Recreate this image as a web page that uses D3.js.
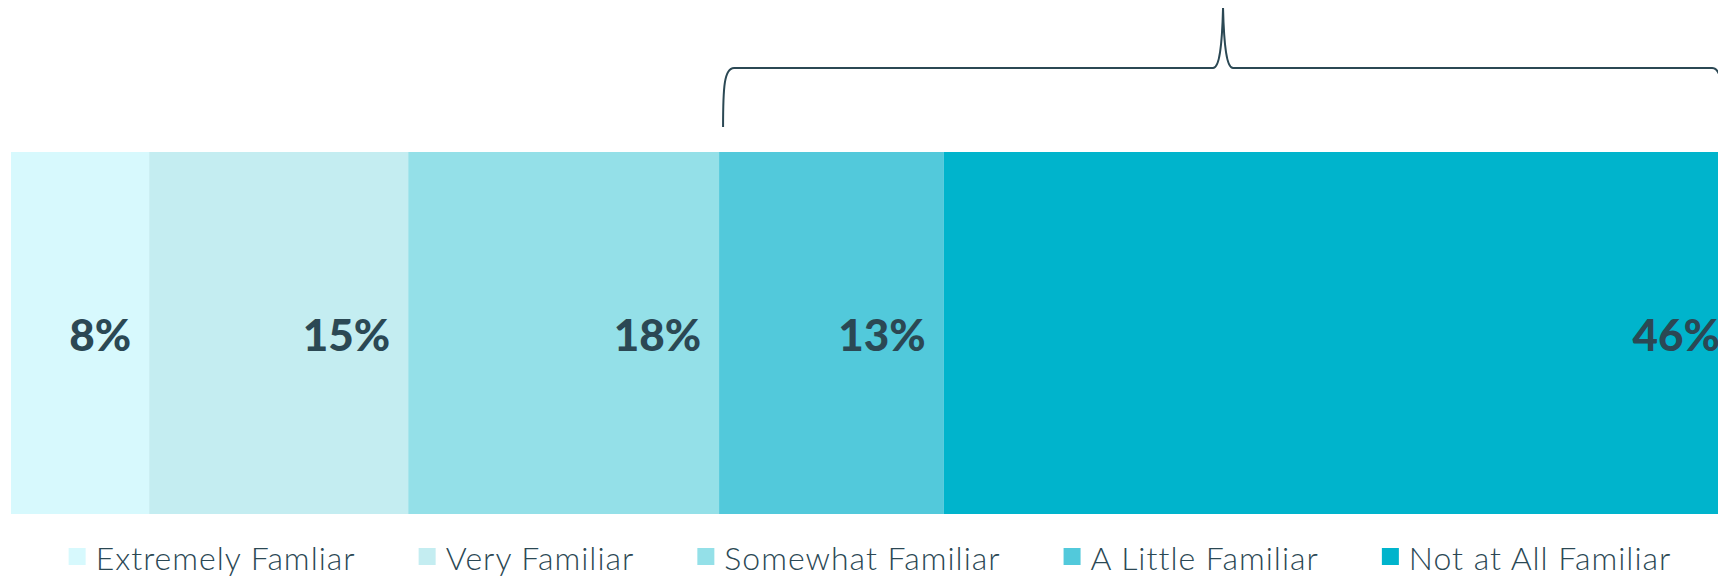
<!DOCTYPE html>
<html>
<head>
<meta charset="utf-8">
<script src="https://cdn.jsdelivr.net/npm/d3@7"></script>
<style>
  html, body { margin: 0; padding: 0; background: #ffffff; }
  svg { display: block; }
</style>
</head>
<body>
<svg id="chart" width="1718" height="576"></svg>
<script>
// ---- data ----
const categories = ["Extremely Famliar", "Very Familiar", "Somewhat Familiar", "A Little Familiar", "Not at All Familiar"];
const values = [8, 15, 18, 13, 46];
const valueLabels = ["8%", "15%", "18%", "13%", "46%"];
const colors = ["#D7F9FD", "#C4EDF1", "#94E0E8", "#52C9DB", "#00B4CC"];
const bracketRange = [41, 100]; // share of the bar spanned by the brace (A Little + Not at All)

// ---- layout ----
const W = 1718, H = 576;
const svg = d3.select("#chart");
const x = d3.scaleLinear().domain([0, 100]).range([11, 1738]);
const barTop = 152, barBottom = 514;
const y = d3.scaleBand().domain(["all"]).range([barTop, barBottom]).padding(0);

const textColor = "#2B4854";

// stacked segments
let acc = 0;
const segs = values.map((v, i) => {
  const s = { key: categories[i], start: acc, end: acc + v, label: valueLabels[i], color: colors[i] };
  acc += v;
  return s;
});

svg.append("g").selectAll("rect").data(segs).join("rect")
  .attr("x", d => x(d.start))
  .attr("width", d => x(d.end) - x(d.start))
  .attr("y", y("all"))
  .attr("height", y.bandwidth())
  .attr("fill", d => d.color);

svg.append("g").selectAll("text").data(segs).join("text")
  .attr("x", d => x(d.end) - 18)
  .attr("y", y("all") + y.bandwidth() / 2 + 18)
  .attr("text-anchor", "end")
  .attr("font-family", "Lato, 'Open Sans', sans-serif")
  .attr("font-weight", 900)
  .attr("font-size", 44)
  .attr("fill", textColor)
  .text(d => d.label);

// curly brace
const bx0 = x(bracketRange[0]) + 4, bx1 = x(bracketRange[1]) - 15;
const bm = (bx0 + bx1) / 2;
const by = 68, byLeg = 127, byTip = 8;
const p = d3.path();
p.moveTo(bx0, byLeg);
p.bezierCurveTo(bx0, by + 20, bx0 + 1, by, bx0 + 11, by);
p.lineTo(bm - 10, by);
p.bezierCurveTo(bm - 4, by, bm - 1, by - 20, bm, byTip);
p.bezierCurveTo(bm + 1, by - 20, bm + 4, by, bm + 10, by);
p.lineTo(bx1 - 11, by);
p.bezierCurveTo(bx1 - 1, by, bx1, by + 20, bx1, byLeg);
svg.append("path")
  .attr("d", p.toString())
  .attr("fill", "none")
  .attr("stroke", textColor)
  .attr("stroke-width", 2);

// legend
const legendFont = 32, gap = 63, sq = 17, textOff = 27;
const lg = svg.append("g");
const items = lg.selectAll("g").data(segs).join("g");
items.append("rect")
  .attr("width", sq).attr("height", sq)
  .attr("y", 548)
  .attr("fill", d => d.color);
items.append("text")
  .attr("x", textOff)
  .attr("y", 570)
  .attr("font-family", "Lato, 'Open Sans', sans-serif")
  .attr("font-weight", 300)
  .attr("letter-spacing", 1)
  .attr("font-size", legendFont)
  .attr("fill", textColor)
  .text(d => d.key);
let widths = [];
items.each(function () {
  widths.push(textOff + d3.select(this).select("text").node().getComputedTextLength());
});
const total = d3.sum(widths) + gap * (widths.length - 1);
let cx = 870 - total / 2;
items.each(function (d, i) {
  d3.select(this).attr("transform", `translate(${cx},0)`);
  cx += widths[i] + gap;
});
</script>
</body>
</html>
